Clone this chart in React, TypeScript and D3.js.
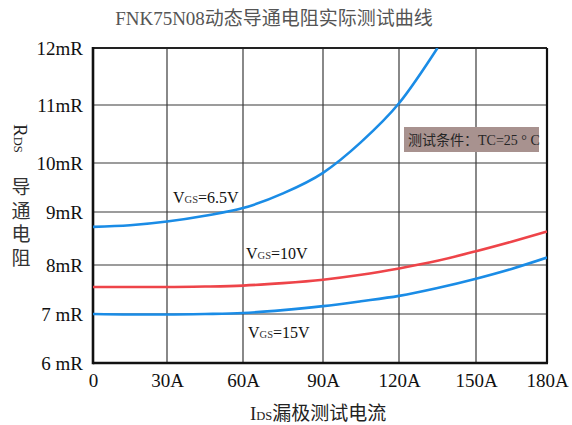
import React, { useEffect, useRef } from 'react';
import * as d3 from 'd3';

// tick values / labels
const xTicks = [0, 30, 60, 90, 120, 150, 180];
const xTickLabels = ['0', '30A', '60A', '90A', '120A', '150A', '180A'];
const yTicks = [6, 7, 8, 9, 10, 11, 12];
const yTickLabels = ['6 mR', '7 mR', '8mR', '9mR', '10mR', '11mR', '12mR'];

// measured curves (IDS in A -> RDS in mR)
const currents = [0, 15, 30, 45, 60, 75, 90, 105, 120, 135, 150, 165, 180];
const rds65 = [8.72, 8.75, 8.82, 8.93, 9.08, 9.38, 9.8, 10.36, 11.03, 12.0];
const rds10 = [7.55, 7.55, 7.55, 7.56, 7.58, 7.63, 7.7, 7.8, 7.93, 8.08, 8.26, 8.44, 8.63];
const rds15 = [7.0, 6.99, 6.99, 7.0, 7.02, 7.08, 7.16, 7.26, 7.37, 7.53, 7.72, 7.92, 8.14];

const seriesNames = ['6.5V', '10V', '15V'];

const App: React.FC = () => {
  const ref = useRef<SVGSVGElement>(null);

  useEffect(() => {
    if (!ref.current) return;
    const svg = d3.select(ref.current);
    svg.selectAll('*').remove();

    const serif = '"Liberation Serif", "Noto Sans CJK SC", serif';

    // grid of the original is hand drawn, so keep its uneven spacing
    const x = d3.scaleLinear().domain(xTicks).range([93, 167, 243, 323, 399, 476, 547]);
    const y = d3.scaleLinear().domain(yTicks).range([363, 314, 265, 212, 163, 105, 48]);
    const x0 = x(0), x1 = x(180), yTop = y(12), yBot = y(6);

    svg.append('defs').append('clipPath').attr('id', 'plot-clip')
      .append('rect')
      .attr('x', x0).attr('y', yTop)
      .attr('width', x1 - x0).attr('height', yBot - yTop);

    // title
    svg.append('text')
      .attr('x', 274).attr('y', 25)
      .attr('text-anchor', 'middle')
      .attr('fill', '#555')
      .attr('font-family', serif)
      .attr('font-size', 19)
      .text('FNK75N08动态导通电阻实际测试曲线');

    // grid lines
    svg.append('g').selectAll('line')
      .data(xTicks.slice(1, -1))
      .enter().append('line')
      .attr('x1', d => x(d)).attr('x2', d => x(d))
      .attr('y1', yTop).attr('y2', yBot)
      .attr('stroke', '#3a3a3a').attr('stroke-width', 1.2);

    svg.append('g').selectAll('line')
      .data(yTicks.slice(1, -1))
      .enter().append('line')
      .attr('x1', x0).attr('x2', x1)
      .attr('y1', d => y(d)).attr('y2', d => y(d))
      .attr('stroke', '#3a3a3a').attr('stroke-width', 1.2);

    // frame
    svg.append('line').attr('x1', x0).attr('x2', x1).attr('y1', yTop).attr('y2', yTop)
      .attr('stroke', '#222').attr('stroke-width', 2);
    svg.append('line').attr('x1', x1).attr('x2', x1).attr('y1', yTop).attr('y2', yBot)
      .attr('stroke', '#111').attr('stroke-width', 2.2);
    svg.append('line').attr('x1', x0).attr('x2', x0).attr('y1', yTop - 1).attr('y2', yBot + 1.2)
      .attr('stroke', '#111').attr('stroke-width', 2.6);
    svg.append('line').attr('x1', x0).attr('x2', x1 + 1).attr('y1', yBot).attr('y2', yBot)
      .attr('stroke', '#111').attr('stroke-width', 2.6);

    // curves
    const line = d3.line<number>()
      .x((_, i) => x(currents[i]))
      .y(d => y(d))
      .curve(d3.curveMonotoneX);

    const curves = [
      { values: rds65, color: '#1a8ce6' },
      { values: rds10, color: '#ee4449' },
      { values: rds15, color: '#1a8ce6' },
    ];

    svg.append('g').attr('clip-path', 'url(#plot-clip)')
      .selectAll('path')
      .data(curves)
      .enter().append('path')
      .attr('d', d => line(d.values))
      .attr('fill', 'none')
      .attr('stroke', d => d.color)
      .attr('stroke-width', 2.6);

    // tick labels
    svg.append('g').selectAll('text')
      .data(yTicks)
      .enter().append('text')
      .attr('x', 83).attr('y', d => y(d) + 6.5)
      .attr('text-anchor', 'end')
      .attr('font-family', serif).attr('font-size', 19)
      .attr('fill', '#111')
      .text((_, i) => yTickLabels[i]);

    svg.append('g').selectAll('text')
      .data(xTicks)
      .enter().append('text')
      .attr('x', d => x(d) + 0.5).attr('y', 387)
      .attr('text-anchor', 'middle')
      .attr('font-family', serif).attr('font-size', 19)
      .attr('fill', '#111')
      .text((_, i) => xTickLabels[i]);

    // series labels  V_GS=...
    const labelPos = [
      { x: 173, y: 203 },
      { x: 246, y: 259 },
      { x: 248, y: 338 },
    ];
    seriesNames.forEach((name, i) => {
      const t = svg.append('text')
        .attr('x', labelPos[i].x).attr('y', labelPos[i].y)
        .attr('font-family', serif).attr('fill', '#111');
      t.append('tspan').attr('font-size', 16).text('V');
      t.append('tspan').attr('font-size', 10.5).attr('fill', '#333').text('GS');
      t.append('tspan').attr('font-size', 16).text('=' + name);
    });

    // test condition box
    svg.append('rect')
      .attr('x', 404).attr('y', 127).attr('width', 135).attr('height', 25)
      .attr('fill', '#a8928f');
    svg.append('text')
      .attr('x', 408).attr('y', 145)
      .attr('font-family', serif).attr('font-size', 14)
      .attr('fill', '#262626')
      .text('测试条件：TC=25 ° C');

    // x axis title
    const xt = svg.append('text')
      .attr('x', 250).attr('y', 420)
      .attr('font-family', serif).attr('fill', '#222');
    xt.append('tspan').attr('font-size', 19).text('I');
    xt.append('tspan').attr('font-size', 12.5).text('DS');
    xt.append('tspan').attr('font-size', 19).text('漏极测试电流');

    // y axis title: sideways latin, upright CJK
    const yt = svg.append('text')
      .attr('transform', 'translate(13.5,124) rotate(90)')
      .attr('font-family', serif).attr('fill', '#222');
    yt.append('tspan').attr('font-size', 19).text('R');
    yt.append('tspan').attr('font-size', 12.5).text('DS');

    const yChars = ['导', '通', '电', '阻'];
    svg.append('g').selectAll('text')
      .data(yChars)
      .enter().append('text')
      .attr('x', 21).attr('y', (_, i) => 194 + i * 23.5)
      .attr('text-anchor', 'middle')
      .attr('font-family', serif).attr('font-size', 19)
      .attr('fill', '#333')
      .text(d => d);
  }, []);

  return (
    <svg
      ref={ref}
      width={572}
      height={425}
      style={{ position: 'absolute', left: 0, top: 0, background: '#fff' }}
    />
  );
};

export default App;
